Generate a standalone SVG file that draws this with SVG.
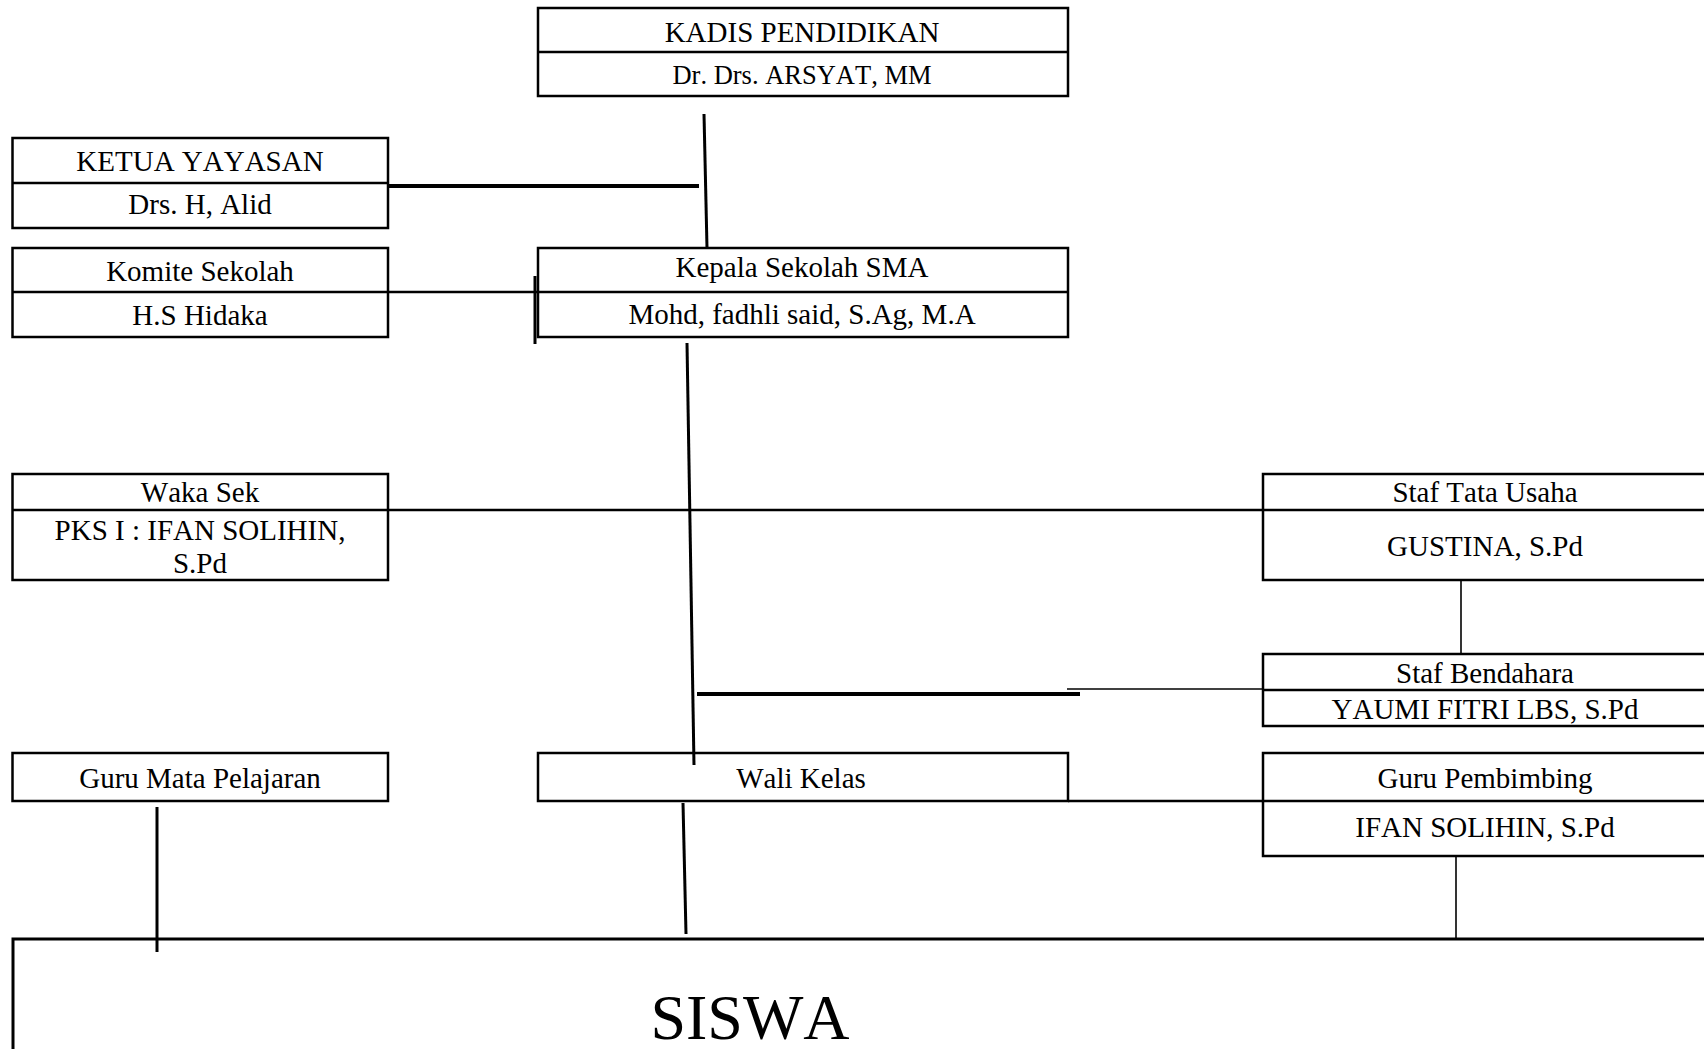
<svg xmlns="http://www.w3.org/2000/svg" width="1704" height="1049" viewBox="0 0 1704 1049">
<style>
  .box { fill: #ffffff; stroke: #000000; stroke-width: 2.5; }
  .div { stroke: #000000; stroke-width: 2.5; }
  .t { font-family: "Liberation Serif", "Times New Roman", serif; font-size: 29px; fill: #000000; text-anchor: middle; font-kerning: none; }
  .big { font-size: 64px; }
  .c { stroke: #000000; fill: none; }
  .w3 { stroke-width: 3; }
  .w4 { stroke-width: 4; }
  .w2 { stroke-width: 2.5; }
  .w1 { stroke-width: 1.6; }
</style>
<rect x="0" y="0" width="1704" height="1049" fill="#ffffff"/>

<g id="kadis">
  <rect class="box" x="538" y="8" width="530" height="88"/>
  <line class="div" x1="538" y1="52" x2="1068" y2="52"/>
  <text class="t" x="802" y="42">KADIS PENDIDIKAN</text>
  <text class="t" x="802" y="84" style="font-size:26.5px">Dr. Drs. ARSYAT, MM</text>
</g>

<g id="ketua">
  <rect class="box" x="12.5" y="138" width="375.5" height="90"/>
  <line class="div" x1="12.5" y1="183" x2="388" y2="183"/>
  <text class="t" x="200" y="171">KETUA YAYASAN</text>
  <text class="t" x="200" y="214">Drs. H, Alid</text>
</g>

<g id="komite">
  <rect class="box" x="12.5" y="248" width="375.5" height="89"/>
  <line class="div" x1="12.5" y1="292" x2="388" y2="292"/>
  <text class="t" x="200" y="281">Komite Sekolah</text>
  <text class="t" x="200" y="325">H.S Hidaka</text>
</g>

<g id="kepala">
  <rect class="box" x="538" y="248" width="530" height="89"/>
  <line class="div" x1="538" y1="292" x2="1068" y2="292"/>
  <text class="t" x="802" y="277">Kepala Sekolah SMA</text>
  <text class="t" x="802" y="324">Mohd, fadhli said, S.Ag, M.A</text>
</g>

<g id="waka">
  <rect class="box" x="12.5" y="474" width="375.5" height="106"/>
  <line class="div" x1="12.5" y1="510" x2="388" y2="510"/>
  <text class="t" x="200" y="502">Waka Sek</text>
  <text class="t" x="200" y="540">PKS I : IFAN SOLIHIN,</text>
  <text class="t" x="200" y="573">S.Pd</text>
</g>

<g id="tatausaha">
  <rect class="box" x="1263" y="474" width="460" height="106"/>
  <line class="div" x1="1263" y1="510" x2="1723" y2="510"/>
  <text class="t" x="1485" y="502">Staf Tata Usaha</text>
  <text class="t" x="1485" y="556">GUSTINA, S.Pd</text>
</g>

<g id="bendahara">
  <rect class="box" x="1263" y="654" width="460" height="72"/>
  <line class="div" x1="1263" y1="690" x2="1723" y2="690"/>
  <text class="t" x="1485" y="683">Staf Bendahara</text>
  <text class="t" x="1485" y="719">YAUMI FITRI LBS, S.Pd</text>
</g>

<g id="gurumapel">
  <rect class="box" x="12.5" y="753" width="375.5" height="48"/>
  <text class="t" x="200" y="788">Guru Mata Pelajaran</text>
</g>

<g id="walikelas">
  <rect class="box" x="538" y="753" width="530" height="48"/>
  <text class="t" x="801" y="788">Wali Kelas</text>
</g>

<g id="gurupembimbing">
  <rect class="box" x="1263" y="753" width="460" height="103"/>
  <line class="div" x1="1263" y1="801" x2="1723" y2="801"/>
  <text class="t" x="1485" y="788">Guru Pembimbing</text>
  <text class="t" x="1485" y="837">IFAN SOLIHIN, S.Pd</text>
</g>

<g id="siswa">
  <rect class="box" x="13" y="939" width="1710" height="130" style="stroke-width:3; fill:none"/>
  <text class="t big" x="750" y="1039">SISWA</text>
</g>

<g id="connectors">
  <line class="c w3" x1="704" y1="114" x2="707" y2="248"/>
  <line class="c w4" x1="388" y1="186" x2="699" y2="186"/>
  <line class="c w2" x1="388" y1="292" x2="538" y2="292"/>
  <line class="c w3" x1="535" y1="276" x2="535" y2="344"/>
  <line class="c w3" x1="687" y1="343" x2="694" y2="765"/>
  <line class="c w2" x1="388" y1="510" x2="1263" y2="510"/>
  <line class="c w1" x1="1461" y1="580" x2="1461" y2="654"/>
  <line class="c w4" x1="697" y1="694" x2="1080" y2="694"/>
  <line class="c w1" x1="1067" y1="689" x2="1263" y2="689"/>
  <line class="c w2" x1="1068" y1="801" x2="1263" y2="801"/>
  <line class="c w3" x1="157" y1="807" x2="157" y2="952"/>
  <line class="c w3" x1="683" y1="803" x2="686" y2="934"/>
  <line class="c w1" x1="1456" y1="856" x2="1456" y2="939"/>
</g>
</svg>
